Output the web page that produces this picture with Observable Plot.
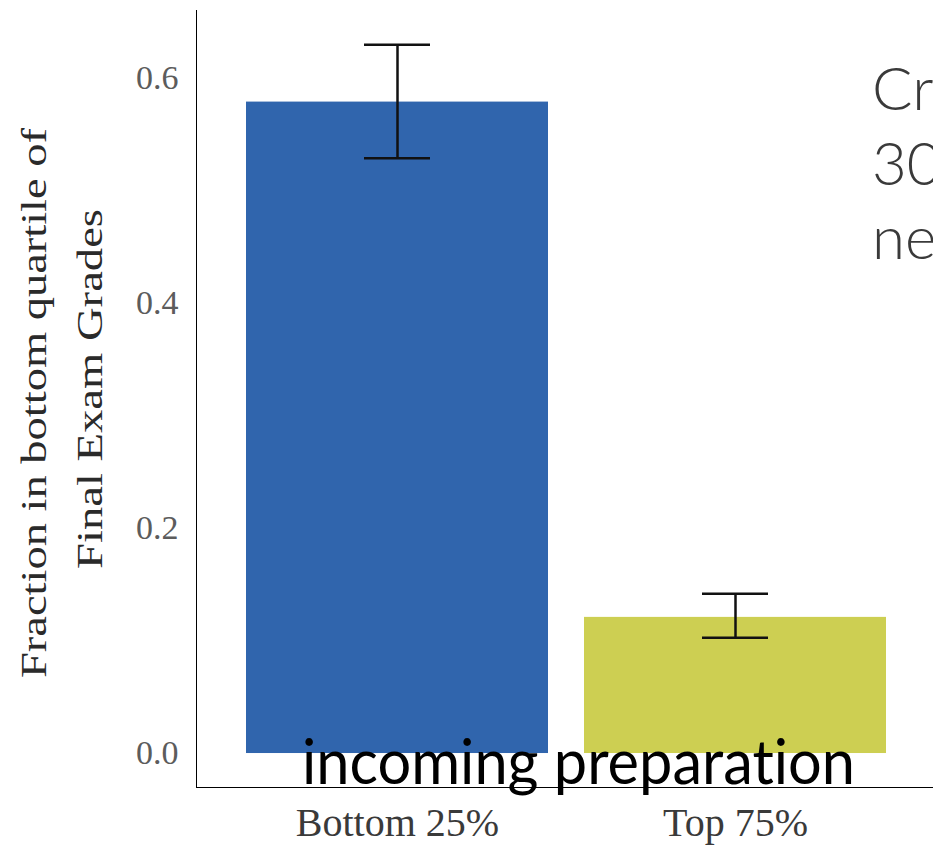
<!DOCTYPE html>
<html><head><meta charset="utf-8">
<script src="https://cdn.jsdelivr.net/npm/d3@7"></script>
<script src="https://cdn.jsdelivr.net/npm/@observablehq/plot@0.6"></script>
<style>
html,body{margin:0;padding:0;background:#fff;overflow:hidden}
#wrap{position:relative;width:933px;height:846px;overflow:hidden;background:#fff}
#wrap svg{position:absolute;left:0;top:0}
g[aria-label="x-axis tick label"]{font-family:"Liberation Serif",serif;font-size:40px;fill:#3a3a3a}
g[aria-label="y-axis tick label"]{font-family:"Liberation Serif",serif;font-size:34px;fill:#5c5c5c}
</style></head><body><div id="wrap"></div>
<script>
// ---- data ----
const groups = ["Bottom 25%", "Top 75%"];
const fractions = [0.579, 0.121];
const lowerCI = [0.529, 0.103];
const upperCI = [0.630, 0.142];
const barColors = ["#3065ad", "#cdcf52"];
const yTicks = [0, 0.2, 0.4, 0.6];
const yDomain = [-0.0302, 0.6604];
const yLabelLines = ["Fraction in bottom quartile of", "Final Exam Grades"];
const overlayWord = "incoming preparation";
const sideTextLines = ["Cr", "30", "ne"];

const data = groups.map((g, i) => ({group: g, value: fractions[i], lo: lowerCI[i], hi: upperCI[i]}));

const chart = Plot.plot({
  width: 933, height: 846,
  marginLeft: 196, marginRight: 0, marginTop: 10, marginBottom: 59,
  style: {background: "transparent"},
  x: {domain: groups, range: [196, 936], paddingInner: 0.107, paddingOuter: 0.148,
      label: null, tickSize: 0, tickPadding: 20, line: true},
  y: {domain: yDomain, ticks: yTicks, tickFormat: d3.format(".1f"),
      tickSize: 0, tickPadding: 18, label: null, line: true},
  color: {domain: groups, range: barColors},
  marks: [
    Plot.barY(data, {x: "group", y1: 0, y2: "value", fill: "group"}),
    Plot.ruleX(data, {x: "group", y1: "lo", y2: "hi", stroke: "#111", strokeWidth: 2.5}),
    Plot.tickY(data, {x: "group", y: "hi", insetLeft: 118, insetRight: 118, stroke: "#111", strokeWidth: 2.5}),
    Plot.tickY(data, {x: "group", y: "lo", insetLeft: 118, insetRight: 118, stroke: "#111", strokeWidth: 2.5})
  ]
});
const wrap = document.getElementById("wrap");
wrap.appendChild(chart);

// ---- text overlay ----
const ov = d3.select(wrap).append("svg")
  .attr("width", 933).attr("height", 846)
  .style("pointer-events", "none");

const yl = [
  {t: yLabelLines[0], x: 46, y: 403, len: 550},
  {t: yLabelLines[1], x: 102, y: 389, len: 360}
];
yl.forEach(d => {
  ov.append("text")
    .attr("transform", `translate(${d.x},${d.y}) rotate(-90)`)
    .attr("text-anchor", "middle")
    .attr("textLength", d.len).attr("lengthAdjust", "spacingAndGlyphs")
    .style("font-family", '"Liberation Serif", serif').style("font-size", "36px")
    .style("fill", "#2a2a2a")
    .text(d.t);
});

ov.append("text")
  .attr("x", 302).attr("y", 784)
  .attr("textLength", 553).attr("lengthAdjust", "spacingAndGlyphs")
  .style("font-family", 'Lato, "Open Sans", sans-serif').style("font-size", "61px")
  .style("font-variant-ligatures", "none").style("font-feature-settings", '"liga" 0')
  .style("fill", "#000")
  .text(overlayWord);

const sideY = [110, 185, 259];
sideTextLines.forEach((t, i) => {
  ov.append("text")
    .attr("x", 872).attr("y", sideY[i])
    .style("font-family", 'Lato, "Open Sans", sans-serif').style("font-weight", 300)
    .style("font-size", "60px").style("fill", "#3a3a3a")
    .text(t);
});
</script></body></html>
